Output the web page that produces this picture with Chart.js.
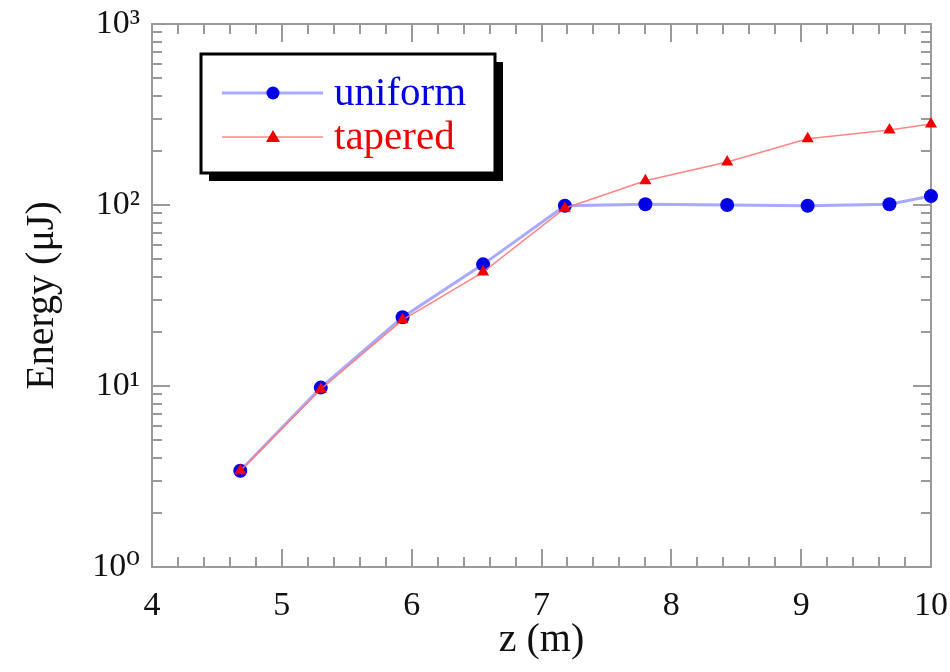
<!DOCTYPE html>
<html><head><meta charset="utf-8">
<script src="https://cdn.jsdelivr.net/npm/chart.js@4"></script>
<style>html,body{margin:0;padding:0;background:#fff}#wrap{width:950px;height:672px}</style>
</head><body><div id="wrap"><canvas id="c" width="950" height="672"></canvas></div>
<script>
const zPositions = [4.68, 5.30, 5.93, 6.55, 7.18, 7.80, 8.43, 9.05, 9.68, 10.0];
const uniformEnergy = [3.4, 9.8, 24, 47, 99, 101, 100, 99, 101, 112];
const taperedEnergy = [3.4, 9.6, 23.2, 42.6, 96, 136, 173, 232, 260, 280];
const seriesNames = ['uniform', 'tapered'];
const xTickValues = [4, 5, 6, 7, 8, 9, 10];
const yTickValues = [1, 10, 100, 1000];
const yTickLabels = ['10\u2070', '10\u00b9', '10\u00b2', '10\u00b3'];
const xTitle = 'z (m)';
const yTitle = 'Energy (\u03bcJ)';

const SERIF = '"Liberation Serif","DejaVu Serif",serif';
const AXIS = '#9a9a9a';

const framePlugin = {
  id: 'frame',
  beforeDatasetsDraw(chart) {
    const {ctx, chartArea: a, scales: {x, y}} = chart;
    ctx.save();
    ctx.strokeStyle = AXIS;
    ctx.lineWidth = 2;
    ctx.strokeRect(a.left, a.top, a.right - a.left, a.bottom - a.top);
    ctx.beginPath();
    for (let v = 4; v <= 10.0001; v += 0.2) {
      const px = Math.round(x.getPixelForValue(v));
      const major = Math.abs(v - Math.round(v)) < 1e-6;
      const L = major ? 18 : 10;
      ctx.moveTo(px, a.bottom); ctx.lineTo(px, a.bottom - L);
      ctx.moveTo(px, a.top); ctx.lineTo(px, a.top + L);
    }
    for (let d = 1; d <= 100; d *= 10) {
      for (let k = 1; k <= 10; k++) {
        const v = d * k;
        const py = Math.round(y.getPixelForValue(v));
        const major = (k === 1 || k === 10);
        const L = major ? 18 : 10;
        ctx.moveTo(a.left, py); ctx.lineTo(a.left + L, py);
        ctx.moveTo(a.right, py); ctx.lineTo(a.right - L, py);
      }
    }
    ctx.stroke();
    ctx.restore();
  },
  afterDraw(chart) {
    const {ctx, chartArea: a} = chart;
    ctx.save();
    ctx.translate(42, (a.top + a.bottom) / 2);
    ctx.rotate(-Math.PI / 2);
    ctx.font = '40px ' + SERIF;
    ctx.fillStyle = '#111';
    ctx.textAlign = 'center';
    ctx.textBaseline = 'middle';
    ctx.fillText(yTitle, 0, 0);
    ctx.restore();

    ctx.save();
    const bx = 201, by = 54, bw = 294, bh = 119;
    ctx.fillStyle = '#000';
    ctx.fillRect(bx + 8, by + 8, bw, bh);
    ctx.fillStyle = '#fff';
    ctx.fillRect(bx, by, bw, bh);
    ctx.strokeStyle = '#000';
    ctx.lineWidth = 3;
    ctx.strokeRect(bx, by, bw, bh);
    const ds = chart.data.datasets;
    const rows = [93, 137];
    for (let i = 0; i < 2; i++) {
      const d = ds[i];
      const yy = rows[i];
      ctx.strokeStyle = d.borderColor;
      ctx.lineWidth = d.borderWidth;
      ctx.beginPath(); ctx.moveTo(222, yy); ctx.lineTo(323, yy); ctx.stroke();
      ctx.fillStyle = d.pointBackgroundColor;
      ctx.beginPath();
      if (i === 0) {
        ctx.arc(273, yy, 6.5, 0, Math.PI * 2);
      } else {
        ctx.moveTo(273, yy - 7); ctx.lineTo(280, yy + 5); ctx.lineTo(266, yy + 5); ctx.closePath();
      }
      ctx.fill();
      ctx.font = '41px ' + SERIF;
      ctx.textBaseline = 'middle';
      ctx.textAlign = 'left';
      ctx.fillStyle = d.pointBackgroundColor;
      ctx.fillText(seriesNames[i], 334, yy + 1);
    }
    ctx.restore();
  }
};

new Chart(document.getElementById('c'), {
  type: 'scatter',
  data: {
    datasets: [
      {
        label: seriesNames[0],
        data: zPositions.map((z, i) => ({x: z, y: uniformEnergy[i]})),
        order: 2,
        showLine: true,
        borderColor: 'rgba(160,160,255,0.9)',
        borderWidth: 3,
        pointStyle: 'circle',
        pointRadius: 7,
        pointBackgroundColor: '#0000e6',
        pointBorderColor: '#0000e6',
        pointBorderWidth: 0,
        clip: false
      },
      {
        label: seriesNames[1],
        data: zPositions.map((z, i) => ({x: z, y: taperedEnergy[i]})),
        order: 1,
        showLine: true,
        borderColor: 'rgba(255,120,120,0.9)',
        borderWidth: 1.5,
        pointStyle: 'triangle',
        pointRadius: 7,
        pointBackgroundColor: '#ee0000',
        pointBorderColor: '#ee0000',
        pointBorderWidth: 0,
        clip: false
      }
    ]
  },
  options: {
    responsive: false,
    animation: false,
    devicePixelRatio: 1,
    layout: {padding: {left: 0, right: 19, top: 24, bottom: 0}},
    plugins: {legend: {display: false}, tooltip: {enabled: false}},
    scales: {
      x: {
        type: 'linear', min: 4, max: 10,
        border: {display: false},
        grid: {display: false, drawTicks: false},
        afterBuildTicks: s => { s.ticks = xTickValues.map(v => ({value: v})); },
        afterFit: s => { s.height = 105; s.paddingLeft = 0; s.paddingRight = 0; },
        ticks: {color: '#111', padding: 19, font: {family: SERIF, size: 34}, maxRotation: 0, autoSkip: false},
        title: {display: true, text: xTitle, color: '#111', font: {family: SERIF, size: 40}, padding: {top: 0, bottom: 8}}
      },
      y: {
        type: 'logarithmic', min: 1, max: 1000,
        border: {display: false},
        grid: {display: false, drawTicks: false},
        afterBuildTicks: s => { s.ticks = yTickValues.map(v => ({value: v})); },
        afterFit: s => { s.width = 152; s.paddingTop = 0; s.paddingBottom = 0; },
        ticks: {color: '#111', padding: 12, font: {family: SERIF, size: 34},
          callback: (v) => { const i = yTickValues.indexOf(v); return i >= 0 ? yTickLabels[i] : ''; }},
        title: {display: false}
      }
    }
  },
  plugins: [framePlugin]
});
</script></body></html>
